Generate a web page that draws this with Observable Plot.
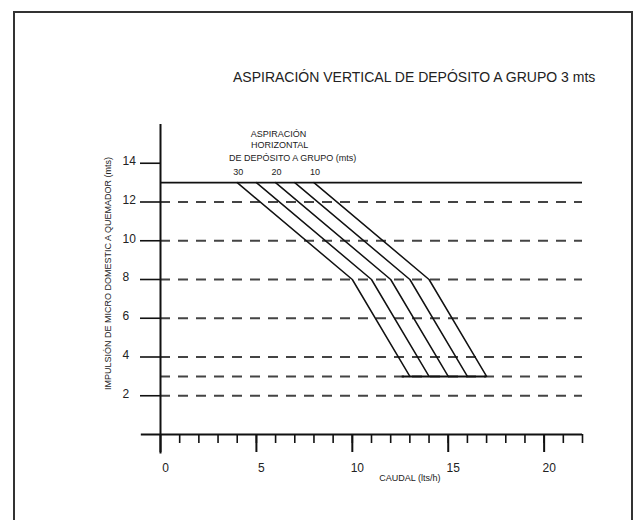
<!DOCTYPE html>
<html>
<head>
<meta charset="utf-8">
<script src="https://cdn.jsdelivr.net/npm/d3@7"></script>
<script src="https://cdn.jsdelivr.net/npm/@observablehq/plot@0.6"></script>
<style>
  html, body { margin: 0; padding: 0; background: #fff; }
  body { width: 639px; height: 520px; position: relative; overflow: hidden; font-family: "Liberation Sans", Arial, sans-serif; }
  #frame { position: absolute; left: 13px; top: 11px; width: 616px; height: 530px; border: 2px solid #333; border-bottom: none; }
  #title { position: absolute; left: 0; top: 69px; width: 639px; padding-left: 233px; box-sizing: border-box; font-size: 14px; line-height: 16px; color: #222; white-space: nowrap; }
  #chart { position: absolute; left: 0; top: 0; }
</style>
</head>
<body>
<div id="frame"></div>
<div id="title">ASPIRACIÓN VERTICAL DE DEPÓSITO A GRUPO 3 mts</div>
<div id="chart"></div>
<script>
// ---- data ----
const aspiracionHorizontal = [30, 25, 20, 15, 10];   // mts, one curve each
const labeledAspiracion = [30, 20, 10];
const impulsionLevels = [13, 8, 3];                   // mts (y of the curve vertices)
const caudalAt13 = [4, 5, 6, 7, 8];                   // lts/h
const caudalAt8 = [10, 11, 12, 13, 14];
const caudalAt3 = [13, 14, 15, 16, 17];
const baseCaudal = [12.6, 17];                        // bottom joining segment at y=3
const topLevel = 13;
const dashedLevels = [12, 10, 8, 6, 4, 3, 2];
const xDomain = [0, 22];
const yDomain = [0, 16];
const yTicks = [2, 4, 6, 8, 10, 12, 14];
const xMinorTicks = d3.range(1, 23);
const xMajorTicks = [0, 5, 10, 15, 20];
const headerLines = ["ASPIRACIÓN", "HORIZONTAL", "DE DEPÓSITO A GRUPO (mts)"];
const xLabel = "CAUDAL (lts/h)";
const yLabel = "IMPULSIÓN DE MICRO DOMESTIC A QUEMADOR (mts)";

// ---- tables ----
const curves = [];
aspiracionHorizontal.forEach((a, i) => {
  [caudalAt13[i], caudalAt8[i], caudalAt3[i]].forEach((c, j) => {
    curves.push({asp: a, caudal: c, imp: impulsionLevels[j]});
  });
});
const labelRows = aspiracionHorizontal
  .map((a, i) => ({asp: a, caudal: caudalAt13[i], imp: topLevel}))
  .filter(d => labeledAspiracion.includes(d.asp));
const anchorX = caudalAt13[aspiracionHorizontal.indexOf(20)];

const ink = "#111";
const txt = "#222";
const noLabel = () => "";

const chart = Plot.plot({
  width: 639,
  height: 520,
  marginLeft: 160,
  marginRight: 57,
  marginTop: 124,
  marginBottom: 86,
  x: {domain: xDomain},
  y: {domain: yDomain},
  style: {background: "transparent", fontFamily: "'Liberation Sans', Arial, sans-serif", color: txt, overflow: "visible"},
  marks: [
    // dashed reference lines
    Plot.ruleY(dashedLevels, {x1: xDomain[0], x2: xDomain[1], stroke: "#444", strokeWidth: 2, strokeDasharray: "10,8"}),
    // solid top line
    Plot.ruleY([topLevel], {x1: xDomain[0], x2: xDomain[1], stroke: ink, strokeWidth: 1.6}),
    // axes lines
    Plot.ruleY([0], {x1: -1, x2: xDomain[1], stroke: ink, strokeWidth: 2}),
    Plot.ruleX([0], {y1: -1, y2: yDomain[1], stroke: ink, strokeWidth: 2}),
    // y ticks and labels
    Plot.axisY({ticks: yTicks, tickSize: 20, tickFormat: noLabel, label: null, stroke: ink, strokeWidth: 1.6}),
    Plot.axisY({ticks: yTicks, tickSize: 0, tickPadding: 38, textAnchor: "start", dy: -2, fontSize: 12, label: null, fill: txt}),
    // x ticks and labels
    Plot.axisX({ticks: xMinorTicks, tickSize: 9, tickFormat: noLabel, label: null, stroke: ink, strokeWidth: 1.6}),
    Plot.axisX({ticks: xMajorTicks, tickSize: 18, tickFormat: noLabel, label: null, stroke: ink, strokeWidth: 2}),
    Plot.axisX({ticks: xMajorTicks, tickSize: 0, tickPadding: 29, dx: 5, fontSize: 12, label: null, fill: txt}),
    // curves
    Plot.line(curves, {x: "caudal", y: "imp", z: "asp", stroke: ink, strokeWidth: 1.5}),
    Plot.ruleY([impulsionLevels[2]], {x1: baseCaudal[0], x2: baseCaudal[1], stroke: ink, strokeWidth: 2}),
    // curve labels
    Plot.text(labelRows, {x: "caudal", y: "imp", text: d => String(d.asp), dx: 1, dy: -11, fontSize: 9, fill: txt}),
    Plot.text([headerLines[0]], {x: anchorX, y: topLevel, text: d => d, dx: 3, dy: -49, fontSize: 9, fill: txt}),
    Plot.text([headerLines[1]], {x: anchorX, y: topLevel, text: d => d, dx: 4, dy: -38, fontSize: 9, fill: txt}),
    Plot.text([headerLines[2]], {x: anchorX, y: topLevel, text: d => d, dx: 17, dy: -25, fontSize: 9, fill: txt}),
    // axis titles
    Plot.text([xLabel], {x: 13, frameAnchor: "bottom", text: d => d, dy: 46, fontSize: 9, fill: txt}),
    Plot.text([yLabel], {frameAnchor: "left", textAnchor: "middle", text: d => d, rotate: -90, dx: -52, dy: -6, fontSize: 9, fill: txt})
  ]
});
document.getElementById("chart").appendChild(chart);
</script>
</body>
</html>
